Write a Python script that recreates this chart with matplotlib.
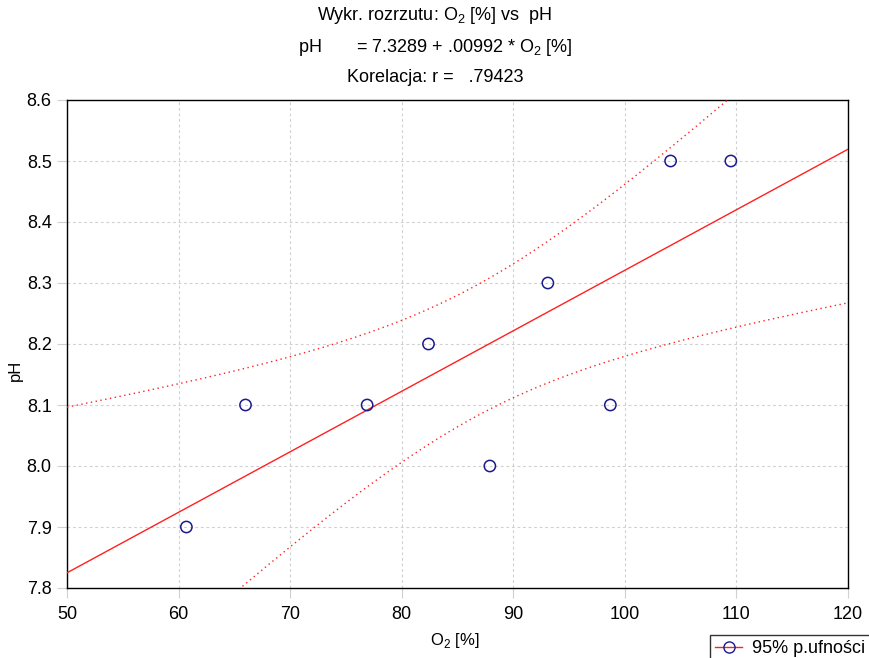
import numpy as np
import matplotlib
matplotlib.use("Agg")
import matplotlib.pyplot as plt
from matplotlib.lines import Line2D

plt.rcParams['font.family'] = ['Liberation Sans', 'DejaVu Sans']
plt.rcParams['mathtext.fontset'] = 'custom'
plt.rcParams['mathtext.rm'] = 'Liberation Sans'

# Data
o2 = [60.7, 66.0, 76.9, 82.4, 87.9, 93.1, 98.7, 104.1, 109.5]
ph = [7.9, 8.1, 8.1, 8.2, 8.0, 8.3, 8.1, 8.5, 8.5]
intercept = 7.3289
slope = 0.00992
t_crit = 2.3646  # t(0.975, df=7)

x = np.array(o2)
y = np.array(ph)
n = len(x)
xs = np.linspace(50, 120, 300)
fit = intercept + slope * xs
resid = y - (intercept + slope * x)
s = np.sqrt(np.sum(resid ** 2) / (n - 2))
sxx = np.sum((x - x.mean()) ** 2)
half = t_crit * s * np.sqrt(1.0 / n + (xs - x.mean()) ** 2 / sxx)

W, H = 870, 658
fig = plt.figure(figsize=(W / 100, H / 100), dpi=100)
ax = fig.add_axes([67 / W, 1 - 588 / H, (848 - 67) / W, (588 - 100) / H])

red = '#ff2020'
ax.plot(xs, fit, color=red, lw=1.0, zorder=3)
ax.plot(xs, fit + half, color=red, lw=1.0, ls=(0, (1, 2.5)), zorder=3)
ax.plot(xs, fit - half, color=red, lw=1.0, ls=(0, (1, 2.5)), zorder=3)
ax.scatter(x, y, s=66, facecolors='none', edgecolors='#1a1a8c', linewidths=1.1, zorder=4)

ax.set_xlim(50, 120)
ax.set_ylim(7.8, 8.6)
ax.set_xticks(np.arange(50, 121, 10))
yt = np.round(np.arange(7.8, 8.61, 0.1), 1)
ax.set_yticks(yt)
ax.set_yticklabels([f"{v:.1f}" for v in yt])
ax.grid(True, color='#d0d0d0', ls=(0, (2.5, 2.5)), lw=0.8)
ax.tick_params(axis='both', labelsize=13, length=7, color='#d0d0d0', direction='out', pad=4)
ax.tick_params(axis='x', pad=6)
for sp in ax.spines.values():
    sp.set_color('black')
    sp.set_linewidth(1.0)

fig.text(455 / W, 1 - 641 / H, 'O$_2$ [%]', ha='center', va='center', fontsize=12)
fig.text(15 / W, 1 - 370 / H, 'pH', ha='center', va='center', rotation=90, fontsize=12)

fig.text(0.5, 1 - 16 / H, 'Wykr. rozrzutu: O$_2$ [%] vs  pH', ha='center', va='center', fontsize=13)
fig.text(0.5, 1 - 47 / H, 'pH       = 7.3289 + .00992 * O$_2$ [%]', ha='center', va='center', fontsize=13)
fig.text(0.5, 1 - 78 / H, 'Korelacja: r =   .79423', ha='center', va='center', fontsize=13)

handle = Line2D([], [], color=red, lw=1.0, marker='o', markerfacecolor='none',
                markeredgecolor='#1a1a8c', markersize=8)
leg = fig.legend([handle], ['95% p.ufności'], loc='upper left',
                 bbox_to_anchor=(710 / W, 1 - 635 / H), fontsize=13, frameon=True,
                 fancybox=False, handlelength=1.5, handletextpad=0.5, borderpad=0.3,
                 borderaxespad=0)
leg.get_frame().set_edgecolor('black')
leg.get_frame().set_linewidth(1.0)

fig.savefig('out.png', dpi=100)
